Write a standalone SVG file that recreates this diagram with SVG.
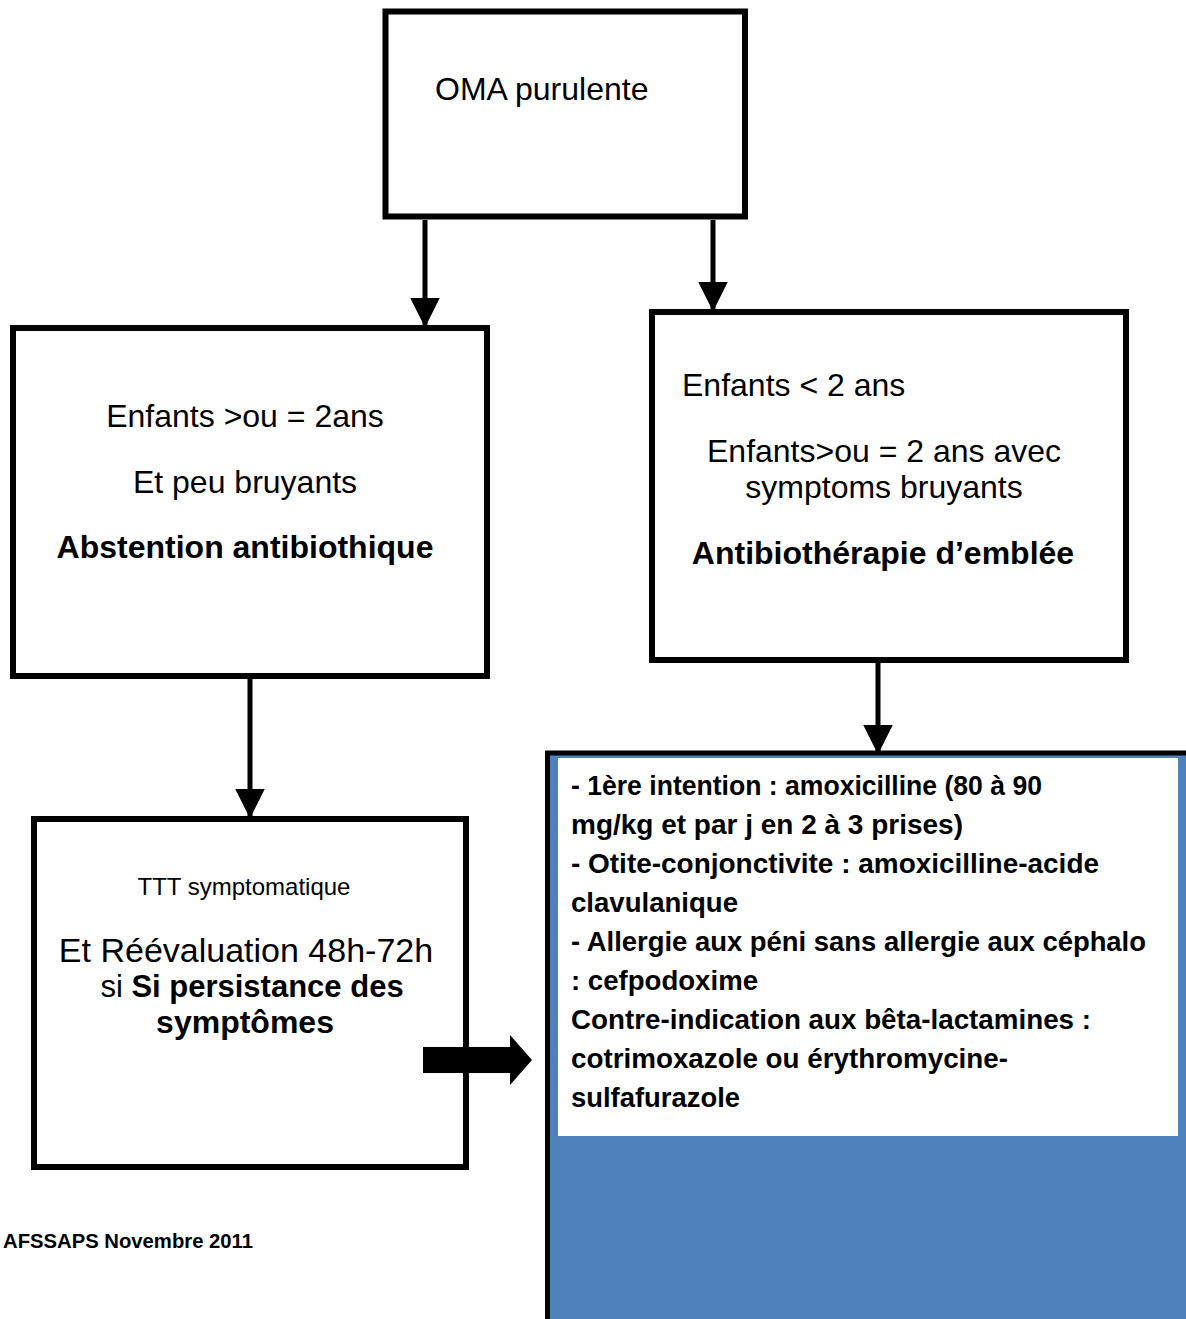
<svg xmlns="http://www.w3.org/2000/svg" width="1186" height="1319" viewBox="0 0 1186 1319">
<style>
.box{fill:#fff;stroke:#000;stroke-width:6}
.t{font-family:"Liberation Sans",Arial,sans-serif;font-size:32px;fill:#000}
.b{font-weight:bold}
.c{text-anchor:middle}
.l{font-family:"Liberation Sans",Arial,sans-serif;font-size:27px;font-weight:bold;fill:#000}
.conn{stroke:#000;stroke-width:5;fill:none}
</style>
<defs>
<marker id="ah" markerWidth="6" markerHeight="6" refX="5.5" refY="3" orient="auto" markerUnits="strokeWidth">
<path d="M0,0 L6,3 L0,6 z" fill="#000"/>
</marker>
</defs>
<rect width="1186" height="1319" fill="#fff"/>
<g id="connectors">
<line class="conn" x1="425" y1="220" x2="425" y2="325" marker-end="url(#ah)"/>
<line class="conn" x1="713" y1="220" x2="713" y2="309" marker-end="url(#ah)"/>
<line class="conn" x1="250" y1="679" x2="250" y2="816" marker-end="url(#ah)"/>
<line class="conn" x1="878" y1="663" x2="878" y2="752" marker-end="url(#ah)"/>
</g>
<g id="oma">
<rect class="box" x="385.5" y="11.5" width="359.5" height="205"/>
<text class="t" x="435" y="100">OMA purulente</text>
</g>
<g id="abstention">
<rect class="box" x="13" y="328" width="474" height="348"/>
<text class="t c" x="245" y="427">Enfants &gt;ou = 2ans</text>
<text class="t c" x="245" y="493">Et peu bruyants</text>
<text class="t c b" x="245" y="558">Abstention antibiothique</text>
</g>
<g id="antibio">
<rect class="box" x="652" y="312" width="474" height="348"/>
<text class="t" x="682" y="396">Enfants &lt; 2 ans</text>
<text class="t c" x="884" y="462">Enfants&gt;ou = 2 ans avec</text>
<text class="t c" x="884" y="498">symptoms bruyants</text>
<text class="t c b" x="883" y="564">Antibiothérapie d’emblée</text>
</g>
<g id="ttt">
<rect class="box" x="34" y="819" width="432" height="348"/>
<text class="t c" x="244" y="895" style="font-size:24px">TTT symptomatique</text>
<text class="t c" x="246" y="962" style="font-size:34px">Et Réévaluation 48h-72h</text>
<text class="t c" x="252" y="997" style="font-size:31px">si <tspan class="b">Si persistance des</tspan></text>
<text class="t c b" x="245" y="1033">symptômes</text>
</g>
<g id="bigarrow">
<path d="M423,1047 L510,1047 L510,1035 L532,1060 L510,1085 L510,1073 L423,1073 z" fill="#000"/>
</g>
<g id="treatment">
<rect x="547.5" y="753" width="645" height="570" fill="#4f81bd" stroke="#000" stroke-width="5"/>
<rect x="558" y="758" width="620" height="378" fill="#fff"/>
<text class="l" x="571" y="795" textLength="471" lengthAdjust="spacingAndGlyphs">- 1ère intention : amoxicilline (80 à 90</text>
<text class="l" x="571" y="834" textLength="392" lengthAdjust="spacingAndGlyphs">mg/kg et par j en 2 à 3 prises)</text>
<text class="l" x="571" y="873" textLength="528" lengthAdjust="spacingAndGlyphs">- Otite-conjonctivite : amoxicilline-acide</text>
<text class="l" x="571" y="912" textLength="167" lengthAdjust="spacingAndGlyphs">clavulanique</text>
<text class="l" x="571" y="951" textLength="575" lengthAdjust="spacingAndGlyphs">- Allergie aux péni sans allergie aux céphalo</text>
<text class="l" x="571" y="990" textLength="187" lengthAdjust="spacingAndGlyphs">: cefpodoxime</text>
<text class="l" x="571" y="1029" textLength="520" lengthAdjust="spacingAndGlyphs">Contre-indication aux bêta-lactamines :</text>
<text class="l" x="571" y="1068" textLength="437" lengthAdjust="spacingAndGlyphs">cotrimoxazole ou érythromycine-</text>
<text class="l" x="571" y="1107" textLength="169" lengthAdjust="spacingAndGlyphs">sulfafurazole</text>
</g>
<g id="source">
<text class="l" x="3" y="1248" style="font-size:20px" textLength="250" lengthAdjust="spacingAndGlyphs">AFSSAPS Novembre 2011</text>
</g>
</svg>
